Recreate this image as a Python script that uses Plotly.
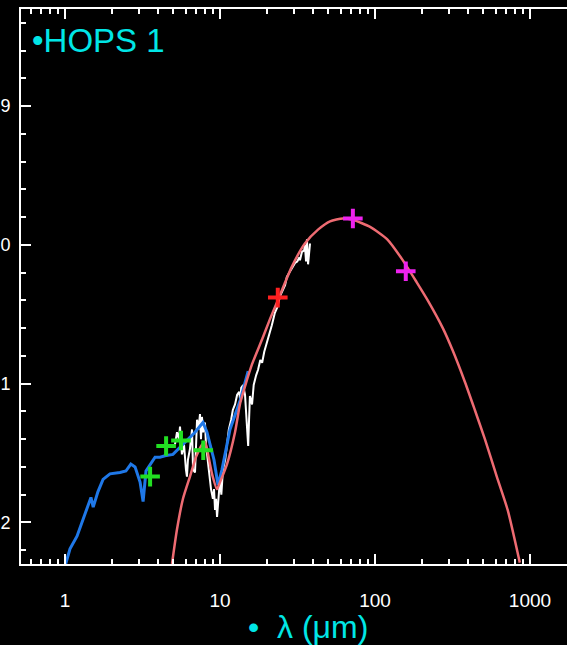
import plotly.graph_objects as go

# ---------------- data ----------------
# Blue model curve (photosphere/scattered light), wavelength in micron, log(lambda F_lambda)
blue_wl = [1.01, 1.077, 1.195, 1.31, 1.43, 1.47, 1.52, 1.63, 1.76, 1.95, 2.26, 2.47,
           2.66, 2.83, 3.05, 3.19, 3.33, 3.54, 3.81, 4.10, 4.42, 4.97, 5.95, 6.9,
           7.77, 8.24, 9.15, 9.71, 10.3, 11.6, 13.5, 15.2]
blue_val = [-12.30, -12.19, -12.10, -11.98, -11.85, -11.82, -11.89, -11.78, -11.69, -11.65,
            -11.64, -11.63, -11.58, -11.60, -11.71, -11.85, -11.63, -11.58, -11.53, -11.53,
            -11.52, -11.51, -11.42, -11.35, -11.28, -11.35, -11.55, -11.73, -11.62, -11.33,
            -11.12, -10.91]

# Red/salmon model SED
red_wl = [4.9, 5.28, 5.77, 6.40, 7.0, 7.65, 8.0, 8.24, 8.88, 9.57, 10.0, 11.1, 12.5,
          13.5, 14.5, 16.1, 18.7, 21.1, 23.6, 29.0, 35.3, 42.9, 51.3, 62, 72, 93, 120,
          151, 186, 219, 274, 317, 381, 441, 512, 611, 718, 860]
red_val = [-12.30, -12.05, -11.83, -11.67, -11.53, -11.44, -11.42, -11.47, -11.65, -11.76,
           -11.71, -11.58, -11.35, -11.14, -11.02, -10.86, -10.68, -10.53, -10.40, -10.16,
           -9.99, -9.89, -9.83, -9.81, -9.82, -9.87, -9.96, -10.11, -10.27, -10.40,
           -10.60, -10.76, -10.99, -11.19, -11.40, -11.67, -11.91, -12.29]

# White IRS spectrum
irs_wl = [5.12, 5.28, 5.44, 5.52, 5.68, 5.86, 6.03, 6.12, 6.21, 6.40, 6.60, 6.70, 6.90,
          7.0, 7.11, 7.27, 7.43, 7.54, 7.65, 7.77, 8.0, 8.12, 8.24, 8.5, 8.75, 9.0, 9.15,
          9.29, 9.43, 9.57, 9.71, 9.86, 10.0, 10.2, 10.45, 10.8, 11.1, 11.4, 11.8, 12.1,
          12.5, 12.9, 13.3, 13.5, 13.7, 14.1, 14.5, 14.9, 15.2, 15.4, 15.6, 16.1, 16.5,
          17.1, 17.6, 18.2, 18.7, 19.3, 19.9, 20.4, 21.1, 21.6, 22.6, 23.4, 24.4, 25.4,
          26.3, 27.0, 28.3, 29.2, 30.5, 31.5, 32.5, 32.8, 33.8, 34.9, 35.3, 35.9, 36.4,
          37.0, 37.6, 38.1]
irs_val = [-11.44, -11.35, -11.40, -11.31, -11.51, -11.44, -11.62, -11.67, -11.55, -11.47,
           -11.33, -11.62, -11.64, -11.40, -11.26, -11.33, -11.22, -11.40, -11.24, -11.35,
           -11.28, -11.44, -11.51, -11.62, -11.76, -11.83, -11.76, -11.91, -11.83, -11.96,
           -11.87, -11.83, -11.69, -11.80, -11.62, -11.55, -11.44, -11.33, -11.26, -11.19,
           -11.15, -11.08, -11.06, -11.12, -11.03, -11.01, -11.08, -11.26, -11.45, -11.26,
           -11.09, -11.15, -11.01, -10.94, -10.90, -10.83, -10.85, -10.77, -10.72, -10.68,
           -10.63, -10.58, -10.49, -10.45, -10.37, -10.32, -10.29, -10.23, -10.19, -10.17,
           -10.13, -10.12, -10.09, -10.11, -10.05, -10.04, -10.00, -10.12, -9.96, -10.14,
           -10.02, -9.99]

# Photometry
irac_wl = [3.54, 4.49, 5.6, 7.8]
irac_val = [-11.67, -11.45, -11.41, -11.48]
mips_wl = [23.6]
mips_val = [-10.38]
pacs_wl = [72, 158]
pacs_val = [-9.81, -10.19]

y_tickvals = [-9, -10, -11, -12]
y_ticktext = ["9", "0", "1", "2"]
x_tickvals = [1, 10, 100, 1000]
x_ticktext = ["1", "10", "100", "1000"]

FONT = "Liberation Sans, Arial, Helvetica, sans-serif"
CYAN = "#00e6e6"

fig = go.Figure()
fig.add_trace(go.Scatter(x=irs_wl, y=irs_val, mode="lines",
                         line=dict(color="white", width=2)))
fig.add_trace(go.Scatter(x=blue_wl, y=blue_val, mode="lines",
                         line=dict(color="#1f78e8", width=3)))
fig.add_trace(go.Scatter(x=red_wl, y=red_val, mode="lines",
                         line=dict(color="#ee6b72", width=2.5, shape="spline", smoothing=0.6)))
fig.add_trace(go.Scatter(x=irac_wl, y=irac_val, mode="markers",
                         marker=dict(symbol="cross-thin", size=14,
                                     line=dict(color="#22e022", width=4))))
fig.add_trace(go.Scatter(x=mips_wl, y=mips_val, mode="markers",
                         marker=dict(symbol="cross-thin", size=14,
                                     line=dict(color="#ff2020", width=4))))
fig.add_trace(go.Scatter(x=pacs_wl, y=pacs_val, mode="markers",
                         marker=dict(symbol="cross-thin", size=14,
                                     line=dict(color="#ee22ee", width=4))))

fig.update_layout(
    width=567, height=645,
    margin=dict(l=21, r=0, t=9, b=81),
    paper_bgcolor="black", plot_bgcolor="black",
    showlegend=False,
    font=dict(family=FONT, color="white", size=19),
    xaxis=dict(type="log", range=[-0.284, 3.239], showgrid=False, zeroline=False,
               showline=True, linecolor="white", linewidth=2, mirror="ticks",
               ticks="inside", ticklen=10, tickwidth=2, tickcolor="white",
               tickvals=x_tickvals, ticktext=x_ticktext, ticklabelstandoff=18,
               tickfont=dict(size=19, color="white", family=FONT),
               minor=dict(ticks="inside", ticklen=5, tickwidth=2, tickcolor="white",
                          dtick="D1", showgrid=False),
               automargin=False),
    yaxis=dict(range=[-12.3, -8.3], showgrid=False, zeroline=False,
               showline=True, linecolor="white", linewidth=2,
               ticks="inside", ticklen=10, tickwidth=2, tickcolor="white",
               tickvals=y_tickvals, ticktext=y_ticktext, ticklabelstandoff=5,
               tickfont=dict(size=18, color="white", family=FONT),
               minor=dict(ticks="inside", ticklen=5, tickwidth=2, tickcolor="white",
                          dtick=0.2, tick0=-9, showgrid=False),
               automargin=False),
    annotations=[
        dict(text="\u2022HOPS 1", xref="paper", yref="paper", x=0.0165, y=0.944,
             xanchor="left", yanchor="middle", showarrow=False,
             font=dict(family=FONT, size=33, color=CYAN)),
        dict(text="\u2022  \u03bb (\u03bcm)", xref="paper", yref="paper", x=0.5256, y=-0.1135,
             xanchor="center", yanchor="middle", showarrow=False,
             font=dict(family=FONT, size=32, color=CYAN)),
    ],
)

fig.write_html("out.html")
